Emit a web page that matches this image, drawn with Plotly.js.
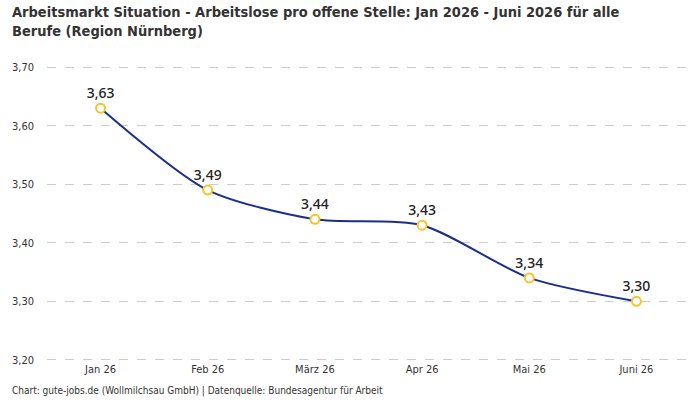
<!DOCTYPE html>
<html><head><meta charset="utf-8">
<script src="https://cdn.plot.ly/plotly-3.0.1.min.js"></script>
<style>body{margin:0;background:#fff}#c{width:700px;height:400px}</style>
</head><body><div id="c"></div>
<script>
const months = ["Jan 26","Feb 26","März 26","Apr 26","Mai 26","Juni 26"];
const values = [3.63, 3.49, 3.44, 3.43, 3.34, 3.30];
const labels = ["3,63","3,49","3,44","3,43","3,34","3,30"];
const yTicks = [3.2, 3.3, 3.4, 3.5, 3.6, 3.7];

const FONT = "'DejaVu Sans Condensed', sans-serif";
const trace = {
  x: months, y: values, type: "scatter", mode: "lines+markers+text",
  text: labels, textposition: "top center",
  textfont: {family: "'Noto Sans', sans-serif", size: 14, color: "#222", weight: 500},
  line: {shape: "spline", smoothing: 0.75, color: "#1c2e8c", width: 2},
  marker: {symbol: "circle", size: 9, color: "#ffffff", line: {color: "#f7c325", width: 2}},
  cliponaxis: false, hoverinfo: "skip"
};
const layout = {
  width: 700, height: 400,
  margin: {l: 47, r: 10, t: 66, b: 39},
  paper_bgcolor: "#fff", plot_bgcolor: "#fff",
  separators: ",.",
  showlegend: false,
  font: {family: FONT, color: "#333", size: 11},
  xaxis: {type: "category", range: [-0.5, 5.5], showgrid: false, zeroline: false, showline: false,
          ticks: "", tickfont: {family: FONT, size: 11, color: "#333"}, fixedrange: true},
  yaxis: {range: [3.198, 3.702], tickvals: yTicks, tickformat: ".2f", showgrid: true,
          gridcolor: "#cccccc", griddash: "dash", gridwidth: 1, zeroline: false, showline: false,
          ticks: "", ticklabelstandoff: 12, tickfont: {family: FONT, size: 11, color: "#333"}, fixedrange: true},
  annotations: [
   {text: "<b>Arbeitsmarkt Situation - Arbeitslose pro offene Stelle: Jan 2026 - Juni 2026 für alle<br>Berufe (Region Nürnberg)</b>",
    xref: "paper", yref: "paper", x: -0.058, y: 1.218, xanchor: "left", yanchor: "top", align: "left",
    showarrow: false, font: {family: FONT, size: 14.5, color: "#333"}},
   {text: "Chart: gute-jobs.de (Wollmilchsau GmbH) | Datenquelle: Bundesagentur für Arbeit",
    xref: "paper", yref: "paper", x: -0.058, y: -0.073, xanchor: "left", yanchor: "top",
    showarrow: false, font: {family: FONT, size: 10, color: "#333"}}]
};
Plotly.newPlot("c", [trace], layout, {displayModeBar: false, staticPlot: true});
</script></body></html>
